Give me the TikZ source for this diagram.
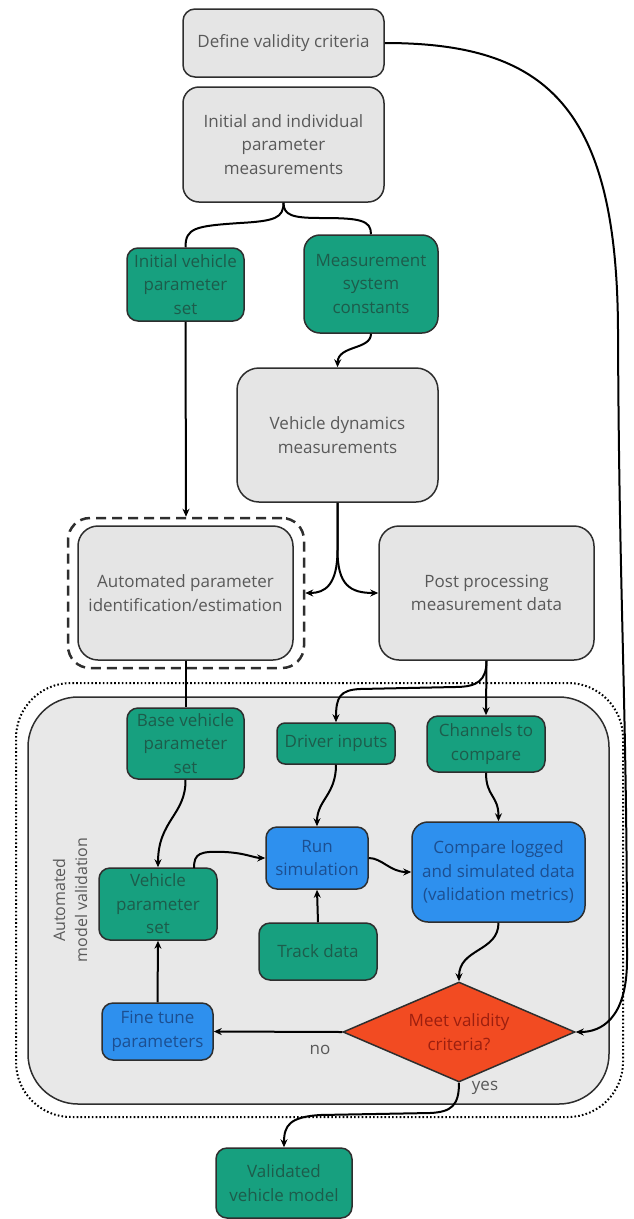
\documentclass[tikz,border=0pt]{standalone}
\usepackage{fontspec}
\setmainfont{Open Sans}
\usetikzlibrary{arrows.meta,shapes.geometric}
\definecolor{boxgray}{HTML}{E5E5E5}
\definecolor{areagray}{HTML}{E8E8E8}
\definecolor{txtgray}{HTML}{595959}
\definecolor{teal}{HTML}{17A07F}
\definecolor{txtteal}{HTML}{1D5C4B}
\definecolor{bblue}{HTML}{2E90EE}
\definecolor{txtblue}{HTML}{1C4F91}
\definecolor{rred}{HTML}{F24B22}
\definecolor{txtred}{HTML}{9C1F0F}
\definecolor{edge}{HTML}{2E2E2E}
\begin{document}
\begin{tikzpicture}[x=1pt,y=-1pt,
  every node/.style={font=\fontsize{17}{23.5}\selectfont},
  base/.style={draw=edge,line width=1.5pt,align=center,inner sep=0pt},
  graybox/.style={base,fill=boxgray,text=txtgray,rounded corners=16pt},
  greenbox/.style={base,fill=teal,text=txtteal,rounded corners=11pt},
  bluebox/.style={base,fill=bblue,text=txtblue,rounded corners=11pt},
  decision/.style={base,diamond,fill=rred,text=txtred,aspect=2.32,rounded corners=0pt},
  conn/.style={draw=black,line width=2pt},
  arr/.style={conn,-{Stealth[length=8pt,width=7pt]}},
  lbl/.style={text=txtgray}]
\useasboundingbox (0,0) rectangle (633,1219);
% containers
\node[draw=black,line width=2pt,dash pattern=on 1.6pt off 2.2pt,rounded corners=55pt,minimum width=607pt,minimum height=434pt,inner sep=0pt] (outer) at (319.5,900) {};
\node[draw=edge,line width=1.5pt,fill=areagray,rounded corners=50pt,minimum width=581pt,minimum height=407pt,inner sep=0pt] (area) at (318.5,900.5) {};
\node[draw=edge,line width=2.5pt,dash pattern=on 10pt off 6pt,rounded corners=22pt,minimum width=236pt,minimum height=150pt,inner sep=0pt] (dbox) at (186,593) {};
% nodes
\node[graybox,rounded corners=12pt,minimum width=201pt,minimum height=68pt] (def) at (283.5,43) {Define validity criteria};
\node[graybox,minimum width=201pt,minimum height=115pt] (init) at (283.5,144.5) {Initial and individual\\parameter\\measurements};
\node[greenbox,minimum width=117pt,minimum height=73pt] (ivp) at (185.5,284.5) {Initial vehicle\\parameter\\set};
\node[greenbox,rounded corners=16pt,minimum width=134pt,minimum height=98pt] (msc) at (371,284) {Measurement\\system\\constants};
\node[graybox,rounded corners=22pt,minimum width=201pt,minimum height=134pt] (vdm) at (337.5,435) {Vehicle dynamics\\measurements};
\node[graybox,rounded corners=20pt,minimum width=215pt,minimum height=134pt] (apie) at (185.5,593) {Automated parameter\\identification/estimation};
\node[graybox,rounded corners=20pt,minimum width=215pt,minimum height=134pt] (ppmd) at (486.5,593) {Post processing\\measurement data};
\node[greenbox,minimum width=117pt,minimum height=71pt] (bvp) at (185.5,743.5) {Base vehicle\\parameter\\set};
\node[greenbox,rounded corners=8pt,minimum width=118pt,minimum height=41pt] (di) at (336,743.5) {Driver inputs};
\node[greenbox,minimum width=118pt,minimum height=56pt] (ctc) at (486,744) {Channels to\\compare};
\node[bluebox,minimum width=102pt,minimum height=62pt] (rs) at (317,858) {Run\\simulation};
\node[bluebox,rounded corners=16pt,minimum width=173pt,minimum height=100pt] (cls) at (498.5,872) {Compare logged\\and simulated data\\(validation metrics)};
\node[greenbox,minimum width=118pt,minimum height=72pt] (vps) at (158,904) {Vehicle\\parameter\\set};
\node[greenbox,minimum width=118pt,minimum height=57pt] (td) at (318,951.5) {Track data};
\node[decision,minimum width=232pt,minimum height=100pt] (dec) at (459,1032) {Meet validity\\criteria?};
\node[bluebox,minimum width=111pt,minimum height=57pt] (ftp) at (157.5,1031.5) {Fine tune\\parameters};
\node[greenbox,minimum width=136pt,minimum height=70pt] (vvm) at (284,1183) {Validated\\vehicle model};
\node[lbl,rotate=90,align=center,font=\fontsize{16}{22}\selectfont] (albl) at (70,900) {Automated\\model validation};
\node[lbl] (nolbl) at (320,1050) {no};
\node[lbl] (yeslbl) at (485,1088) {yes};
\coordinate (vpsout) at (194,868);
% connectors
\draw[arr] (def.east) .. controls (545,43) and (617,105) .. (618,330) .. controls (619,600) and (627,700) .. (627,960) .. controls (627,1020) and (600,1032) .. (dec.east);
\draw[conn] (init.south) .. controls (283.5,218) and (275,221) .. (240,223) .. controls (195,226) and (185.5,228) .. (ivp.north);
\draw[conn] (init.south) .. controls (283.5,215) and (292,218) .. (320,218) .. controls (360,218) and (371,220) .. (msc.north);
\draw[arr] (ivp.south) -- (dbox.north);
\draw[arr] (msc.south) .. controls (371,350) and (338,345) .. (vdm.north);
\draw[arr] (vdm.south) -- (337.5,550) .. controls (337.5,585) and (325,593) .. (dbox.east);
\draw[arr] (vdm.south) -- (337.5,550) .. controls (337.5,585) and (350,593) .. (ppmd.west);
\draw[conn] (apie.south) -- (bvp.north);
\draw[arr] (ppmd.south) -- (ctc.north);
\draw[arr] (ppmd.south) .. controls (486.5,680) and (478,687) .. (455,687) -- (360,689) .. controls (340,690) and (336,697) .. (di.north);
\draw[arr] (bvp.south) .. controls (186,815) and (158,820) .. (vps.north);
\draw[arr] (di.south) .. controls (336,795) and (317,800) .. (rs.north);
\draw[arr] (ctc.south) .. controls (486,797) and (498.5,795) .. (cls.north);
\draw[arr] (vpsout) .. controls (194,853) and (200,851) .. (225,852) .. controls (245,853) and (255,858) .. (rs.west);
\draw[arr] (rs.east) .. controls (382,858) and (390,872) .. (cls.west);
\draw[arr] (td.north) -- (rs.south);
\draw[arr] (cls.south) .. controls (498.5,952) and (459,948) .. (dec.north);
\draw[arr] (dec.west) -- (ftp.east);
\draw[arr] (ftp.north) -- (vps.south);
\draw[arr] (dec.south) .. controls (459,1105) and (452,1112) .. (430,1113) -- (320,1115) .. controls (290,1117) and (284,1125) .. (vvm.north);
\end{tikzpicture}
\end{document}
